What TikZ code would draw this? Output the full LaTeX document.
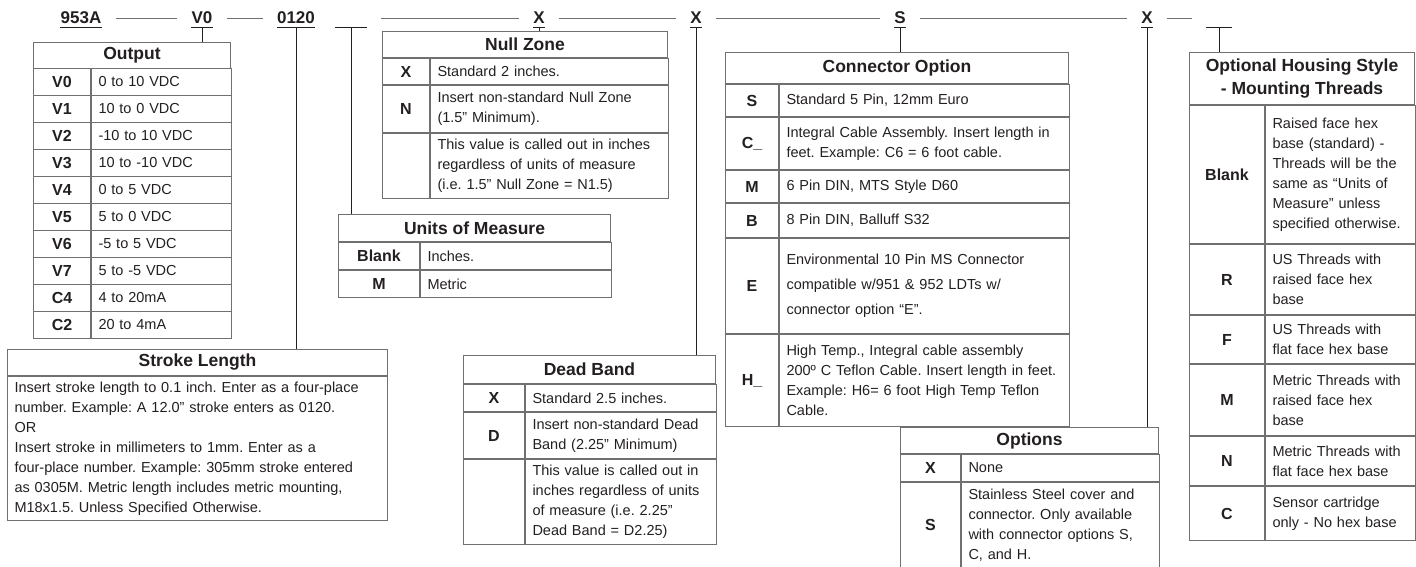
\documentclass[tikz,border=0pt]{standalone}
\usepackage{fontspec}
\setmainfont{Liberation Sans}
\usepackage{tikz}
\usetikzlibrary{positioning}
\definecolor{Ink}{HTML}{231F20}
\definecolor{Rule}{HTML}{707070}
\frenchspacing

\begin{document}
\begin{tikzpicture}[x=1pt,y=-1pt,
  every node/.style={text=Ink},
  code/.style={font=\bfseries\fontsize{17}{17}\selectfont,inner xsep=0pt,inner ysep=3pt,text height=12pt,text depth=0pt,anchor=base},
  uline/.style={draw=Ink,line width=1.1pt},
  link/.style={draw=Rule,line width=0.9pt,shorten <=14pt,shorten >=14pt},
  drop/.style={draw=Ink,line width=0.9pt},
  ttl/.style={draw=Rule,line width=1pt,font=\bfseries\fontsize{17.5}{23}\selectfont,inner sep=0pt,align=center,anchor=north west},
  keyc/.style={draw=Rule,line width=1pt,font=\bfseries\fontsize{16}{18}\selectfont,inner sep=0pt,align=center},
  descc/.style={draw=Rule,line width=1pt,font=\fontsize{14.5}{20}\selectfont,inner xsep=7pt,inner ysep=0pt,align=left}]
  \useasboundingbox (0,0) rectangle (1416,567);

  % model code
  \node[code] (c953) at (81,24) {953A};
  \node[code] (cV0) at (202,24) {V0};
  \node[code] (c0120) at (296,24) {0120};
  \node[code,minimum width=32pt] (cblankA) at (351,24) {};
  \node[code] (cX1) at (539,24) {X};
  \node[code] (cX2) at (696,24) {X};
  \node[code] (cS) at (900,24) {S};
  \node[code] (cX3) at (1147,24) {X};
  \node[code,minimum width=26pt] (cblankB) at (1219,24) {};
  \foreach \n in {c953,cV0,c0120,cblankA,cX1,cX2,cS,cX3,cblankB}
    \draw[uline] (\n.south west) -- (\n.south east);
  \draw[link] (c953) -- (cV0); \draw[link] (cV0) -- (c0120);
  \draw[link] (cblankA) -- (cX1); \draw[link] (cX1) -- (cX2); \draw[link] (cX2) -- (cS);
  \draw[link] (cS) -- (cX3); \draw[link] (cX3) -- (cblankB);

  % output
  \node[ttl,minimum width=197pt,minimum height=26pt] (outT) at (33,42) {Output};
  \foreach \k/\d [count=\i] in {V0/0 to 10 VDC,V1/10 to 0 VDC,V2/-10 to 10 VDC,V3/10 to -10 VDC,V4/0 to 5 VDC,
      V5/5 to 0 VDC,V6/-5 to 5 VDC,V7/5 to -5 VDC,C4/4 to 20mA,C2/20 to 4mA}{
    \node[keyc,minimum width=57pt,minimum height=27pt,anchor=north west] (ok\i) at (33,{41+27*\i}) {\k};
    \node[descc,text width=126pt,minimum height=27pt,right=0pt of ok\i] (od\i) {\d};
  }

  % stroke length
  \node[ttl,minimum width=380pt,minimum height=26pt] (strokeT) at (7,349) {Stroke Length};
  \node[descc,text width=366pt,minimum height=144pt,below=0pt of strokeT.south west,anchor=north west] (strokeD)
    {Insert stroke length to 0.1 inch. Enter as a four-place\\number. Example: A 12.0” stroke enters as 0120.\\OR\\Insert stroke in millimeters to 1mm. Enter as a\\four-place number. Example: 305mm stroke entered\\as 0305M. Metric length includes metric mounting,\\M18x1.5. Unless Specified Otherwise.};

  % null zone
  \node[ttl,minimum width=285pt,minimum height=26pt] (nullT) at (382,31) {Null Zone};
  \node[keyc,minimum width=47pt,minimum height=26pt,below=0pt of nullT.south west,anchor=north west] (nk1) {X};
  \node[descc,text width=224pt,minimum height=26pt,right=0pt of nk1] (nd1) {Standard 2 inches.};
  \node[keyc,minimum width=47pt,minimum height=47pt,below=0pt of nk1.south west,anchor=north west] (nk2) {N};
  \node[descc,text width=224pt,minimum height=47pt,right=0pt of nk2] (nd2) {Insert non-standard Null Zone\\(1.5” Minimum).};
  \node[keyc,minimum width=47pt,minimum height=65pt,below=0pt of nk2.south west,anchor=north west] (nk3) {};
  \node[descc,text width=224pt,minimum height=65pt,right=0pt of nk3] (nd3) {This value is called out in inches\\regardless of units of measure\\(i.e. 1.5” Null Zone = N1.5)};

  % units of measure
  \node[ttl,minimum width=272pt,minimum height=27pt] (unitT) at (338,214) {Units of Measure};
  \node[keyc,minimum width=81pt,minimum height=27pt,below=0pt of unitT.south west,anchor=north west] (uk1) {Blank};
  \node[descc,text width=177pt,minimum height=27pt,right=0pt of uk1] (ud1) {Inches.};
  \node[keyc,minimum width=81pt,minimum height=27pt,below=0pt of uk1.south west,anchor=north west] (uk2) {M};
  \node[descc,text width=177pt,minimum height=27pt,right=0pt of uk2] (ud2) {Metric};

  % dead band
  \node[ttl,minimum width=252pt,minimum height=28pt] (deadT) at (463,355) {Dead Band};
  \node[keyc,minimum width=61pt,minimum height=27pt,below=0pt of deadT.south west,anchor=north west] (dk1) {X};
  \node[descc,text width=177pt,minimum height=27pt,right=0pt of dk1] (dd1) {Standard 2.5 inches.};
  \node[keyc,minimum width=61pt,minimum height=46pt,below=0pt of dk1.south west,anchor=north west] (dk2) {D};
  \node[descc,text width=177pt,minimum height=46pt,right=0pt of dk2] (dd2) {Insert non-standard Dead\\Band (2.25” Minimum)};
  \node[keyc,minimum width=61pt,minimum height=85pt,below=0pt of dk2.south west,anchor=north west] (dk3) {};
  \node[descc,text width=177pt,minimum height=85pt,right=0pt of dk3] (dd3) {This value is called out in\\inches regardless of units\\of measure (i.e. 2.25”\\Dead Band = D2.25)};

  % connector option
  \node[ttl,minimum width=343pt,minimum height=31pt] (connT) at (725,52) {Connector Option};
  \node[keyc,minimum width=53pt,minimum height=32pt,below=0pt of connT.south west,anchor=north west] (ck1) {S};
  \node[descc,text width=276pt,minimum height=32pt,right=0pt of ck1] (cd1) {Standard 5 Pin, 12mm Euro};
  \node[keyc,minimum width=53pt,minimum height=52pt,below=0pt of ck1.south west,anchor=north west] (ck2) {C\_};
  \node[descc,text width=276pt,minimum height=52pt,right=0pt of ck2] (cd2) {Integral Cable Assembly. Insert length in\\feet. Example: C6 = 6 foot cable.};
  \node[keyc,minimum width=53pt,minimum height=32pt,below=0pt of ck2.south west,anchor=north west] (ck3) {M};
  \node[descc,text width=276pt,minimum height=32pt,right=0pt of ck3] (cd3) {6 Pin DIN, MTS Style D60};
  \node[keyc,minimum width=53pt,minimum height=34pt,below=0pt of ck3.south west,anchor=north west] (ck4) {B};
  \node[descc,text width=276pt,minimum height=34pt,right=0pt of ck4] (cd4) {8 Pin DIN, Balluff S32};
  \node[keyc,minimum width=53pt,minimum height=95pt,below=0pt of ck4.south west,anchor=north west] (ck5) {E};
  \node[descc,text width=276pt,minimum height=95pt,right=0pt of ck5,font=\fontsize{14.5}{25}\selectfont] (cd5) {Environmental 10 Pin MS Connector\\compatible w/951 \& 952 LDTs w/\\connector option “E”.};
  \node[keyc,minimum width=53pt,minimum height=92pt,below=0pt of ck5.south west,anchor=north west] (ck6) {H\_};
  \node[descc,text width=276pt,minimum height=92pt,right=0pt of ck6] (cd6) {High Temp., Integral cable assembly\\200º C Teflon Cable. Insert length in feet.\\Example: H6= 6 foot High Temp Teflon\\Cable.};

  % options
  \node[ttl,minimum width=258pt,minimum height=26pt] (optT) at (900,427) {Options};
  \node[keyc,minimum width=60pt,minimum height=27pt,below=0pt of optT.south west,anchor=north west] (pk1) {X};
  \node[descc,text width=184pt,minimum height=27pt,right=0pt of pk1] (pd1) {None};
  \node[keyc,minimum width=60pt,minimum height=85pt,below=0pt of pk1.south west,anchor=north west] (pk2) {S};
  \node[descc,text width=184pt,minimum height=85pt,right=0pt of pk2] (pd2) {Stainless Steel cover and\\connector. Only available\\with connector options S,\\C, and H.};

  % housing style
  \node[ttl,minimum width=225pt,minimum height=52pt] (housT) at (1189,52) {Optional Housing Style\\- Mounting Threads};
  \node[keyc,minimum width=75pt,minimum height=138pt,below=0pt of housT.south west,anchor=north west] (hk1) {Blank};
  \node[descc,text width=136pt,minimum height=138pt,right=0pt of hk1] (hd1) {Raised face hex\\base (standard) -\\Threads will be the\\same as “Units of\\Measure” unless\\specified otherwise.};
  \node[keyc,minimum width=75pt,minimum height=70pt,below=0pt of hk1.south west,anchor=north west] (hk2) {R};
  \node[descc,text width=136pt,minimum height=70pt,right=0pt of hk2] (hd2) {US Threads with\\raised face hex\\base};
  \node[keyc,minimum width=75pt,minimum height=48pt,below=0pt of hk2.south west,anchor=north west] (hk3) {F};
  \node[descc,text width=136pt,minimum height=48pt,right=0pt of hk3] (hd3) {US Threads with\\flat face hex base};
  \node[keyc,minimum width=75pt,minimum height=71pt,below=0pt of hk3.south west,anchor=north west] (hk4) {M};
  \node[descc,text width=136pt,minimum height=71pt,right=0pt of hk4] (hd4) {Metric Threads with\\raised face hex\\base};
  \node[keyc,minimum width=75pt,minimum height=49pt,below=0pt of hk4.south west,anchor=north west] (hk5) {N};
  \node[descc,text width=136pt,minimum height=49pt,right=0pt of hk5] (hd5) {Metric Threads with\\flat face hex base};
  \node[keyc,minimum width=75pt,minimum height=54pt,below=0pt of hk5.south west,anchor=north west] (hk6) {C};
  \node[descc,text width=136pt,minimum height=54pt,right=0pt of hk6] (hd6) {Sensor cartridge\\only - No hex base};

  % drops from the code to each table
  \draw[drop] (cV0.south) -- (cV0.south |- outT.north);
  \draw[drop] (c0120.south) -- (c0120.south |- strokeT.north);
  \draw[drop] (cblankA.south) -- (cblankA.south |- unitT.north);
  \draw[drop] (cX1.south) -- (cX1.south |- nullT.north);
  \draw[drop] (cX2.south) -- (cX2.south |- deadT.north);
  \draw[drop] (cS.south) -- (cS.south |- connT.north);
  \draw[drop] (cX3.south) -- (cX3.south |- optT.north);
  \draw[drop] (cblankB.south) -- (cblankB.south |- housT.north);
\end{tikzpicture}
\end{document}
